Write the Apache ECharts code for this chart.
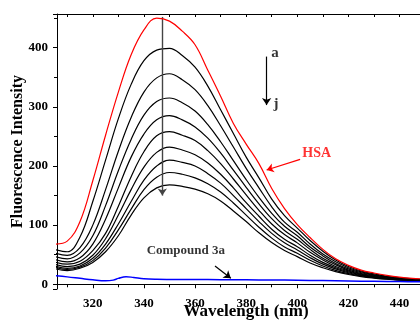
<!DOCTYPE html>
<html><head><meta charset="utf-8">
<script src="https://cdn.jsdelivr.net/npm/echarts@6/dist/echarts.min.js"></script>
<style>html,body{margin:0;padding:0;background:#fff}#c{width:420px;height:321px}</style>
</head><body><div id="c"></div>
<script>
// wavelength grid (nm) shared by the HSA titration curves a..j
const wavelengths = [305,310,315,320,325,330,335,340,345,350,355,360,365,370,375,380,385,390,395,400,405,410,415,420,425,430,435,440,445,450];
// curve a = HSA alone (red)
const curveA = [68,73,106,175,252,325,388,430,450,445,428,405,362,318,272,237,204,162,128,101,79,59,43,32,24,19,15,12,10,9];
const curveB = [59,55,80,140,210,280,338,378,396,399,387,367,335,295,255,215,180,144,116,95,74,56,41,30,22.5,17.5,13.5,11,9,8];
const curveC = [53,49,62,100,160,225,282,325,349,356,346,329,302,268,232,196,163,131,105,88,68,51,38,28,21,16,12.5,10,8.5,7.5];
const curveD = [47,43,53,82,133,192,245,286,309,315,307,293,270,241,209,177,147,120,98,82,63,48,35,26,19.5,15,12,9.5,8,7];
const curveE = [42,38,45,68,110,163,215,254,278,285,278,266,247,222,193,164,136,111,91,76,59,44,33,24,18,14,11,9,7.5,6.5];
const curveF = [38,34,39,57,86,132,182,224,251,258,252,243,226,204,178,151,125,102,84,70,54,41,30,22.5,17,13,10.5,8.5,7,6.2];
const curveG = [34,30,34,49,77,117,160,198,223,232,227,219,205,186,163,138,115,93,76,63.6,49,37,28,21,16,12.5,10,8,6.8,6];
const curveH = [31,27,31,44,68,102,140,176,200,210,206,200,187,171,150,128,106,86,70,58,45,34,26,19.5,15,11.5,9.5,7.5,6.5,5.8];
const curveI = [29,25,29,40,61,92,127,160,181,189,186,180,170,156,137.5,117,96.5,78,63,52.4,40.5,31,23.5,18,14,11,9,7.2,6.2,5.5];
const curveJ = [26.5,23,27,37,55,82,117,146,163,168,165.5,161,153,141,124,106,87,70.5,57,46.7,36,28,21.5,16.5,13,10.5,8.5,7,6,5.3];
// Compound 3a alone (blue)
const compoundWl = [305,310,315,320,325,328,330,333,336,340,345,350,360,370,380,390,400,410,420,430,440,450];
const compoundVal = [14.5,12.5,10,7.5,5.8,7,10,12.8,11.5,9.5,8.5,8.2,8,7.8,7.5,7.2,6.8,6.2,5.6,5,4.5,4.2];
const curveNames = ['a','b','c','d','e','f','g','h','i','j'];
const noteText = ['a','j','HSA','Compound 3a'];

const curves = [curveA,curveB,curveC,curveD,curveE,curveF,curveG,curveH,curveI,curveJ];
const FONT = 'Liberation Serif';

const series = curves.map((vals, k) => ({
  name: curveNames[k],
  type: 'line',
  data: wavelengths.map((w, i) => [w, vals[i]]),
  smooth: 0.4,
  symbol: 'none',
  clip: true,
  z: k === 0 ? 5 : 3,
  lineStyle: { color: k === 0 ? '#ff0000' : '#000000', width: 1.2 }
}));
series.push({
  name: 'Compound 3a',
  type: 'line',
  data: compoundWl.map((w, i) => [w, compoundVal[i]]),
  smooth: 0.4,
  symbol: 'none',
  clip: true,
  lineStyle: { color: '#0000ff', width: 1.5 }
});
const txt = (c, s) => ({ show: true, position: 'inside', color: c, fontFamily: FONT, fontWeight: 'bold', fontSize: s, formatter: p => p.name });
series.push({
  type: 'scatter',
  symbolSize: 1,
  itemStyle: { color: 'transparent' },
  silent: true,
  z: 10,
  data: [
    { name: noteText[0], value: [391.3, 391.6], label: txt('#000', 15) },
    { name: noteText[1], value: [391.7, 304.8], label: txt('#000', 15) },
    { name: noteText[2], value: [407.6, 221.5], label: txt('#ff0000', 14) },
    { name: noteText[3], value: [356.4, 57.1], label: txt('#000', 13) }
  ],
  markLine: {
    silent: true,
    animation: false,
    symbol: ['none', 'arrow'],
    symbolSize: 7,
    label: { show: false },
    data: [
      [{ coord: [347.2, 452], lineStyle: { color: '#444', width: 1.4, type: 'solid' } }, { coord: [347.2, 150] }],
      [{ coord: [388, 385], lineStyle: { color: '#000', width: 1.2, type: 'solid' } }, { coord: [388, 303] }],
      [{ coord: [401.1, 211.3], lineStyle: { color: '#ff0000', width: 1.2, type: 'solid' } }, { coord: [388, 193.2] }],
      [{ coord: [367.8, 30.9], lineStyle: { color: '#000', width: 1.2, type: 'solid' } }, { coord: [374, 10.1] }]
    ]
  }
});

const labelStyle = { color: '#000', fontFamily: FONT, fontWeight: 'bold', fontSize: 13 };
const chart = echarts.init(document.getElementById('c'), null, { renderer: 'canvas' });
chart.setOption({
  animation: false,
  backgroundColor: '#fff',
  grid: { left: 57, right: 0, top: 14, bottom: 32, outerBoundsMode: 'none' },
  xAxis: [{
    type: 'value', min: 306, max: 448, splitNumber: 7,
    name: 'Wavelength (nm)', nameLocation: 'middle', nameGap: 14, nameMoveOverlap: false,
    nameTextStyle: { color: '#000', fontFamily: FONT, fontWeight: 'bold', fontSize: 17, padding: [0, 0, 0, 15] },
    axisLine: { show: true, lineStyle: { color: '#000', width: 1 } },
    axisTick: { show: true, length: 4, lineStyle: { color: '#000' } },
    minorTick: { show: true, splitNumber: 2, length: 3, lineStyle: { color: '#000' } },
    axisLabel: Object.assign({ margin: 8, showMinLabel: false, showMaxLabel: false }, labelStyle),
    splitLine: { show: false }
  }, {
    type: 'value', position: 'top', min: 306, max: 448, splitNumber: 7,
    axisLine: { show: true, lineStyle: { color: '#000', width: 1 } },
    axisTick: { show: true, inside: true, length: 3, lineStyle: { color: '#000' } },
    minorTick: { show: true, splitNumber: 2, length: 3, lineStyle: { color: '#000' } },
    axisLabel: { show: false },
    splitLine: { show: false }
  }],
  yAxis: {
    type: 'value', min: -8, max: 457, splitNumber: 5,
    name: 'Fluorescence Intensity', nameLocation: 'middle', nameGap: 31, nameMoveOverlap: false,
    nameTextStyle: { color: '#000', fontFamily: FONT, fontWeight: 'bold', fontSize: 16 },
    axisLine: { show: true, lineStyle: { color: '#000', width: 1 } },
    axisTick: { show: true, length: 4, lineStyle: { color: '#000' } },
    minorTick: { show: true, splitNumber: 2, length: 3, lineStyle: { color: '#000' } },
    axisLabel: Object.assign({ margin: 9, showMinLabel: false, showMaxLabel: false }, labelStyle),
    splitLine: { show: false }
  },
  series: series
});
</script>
</body></html>
